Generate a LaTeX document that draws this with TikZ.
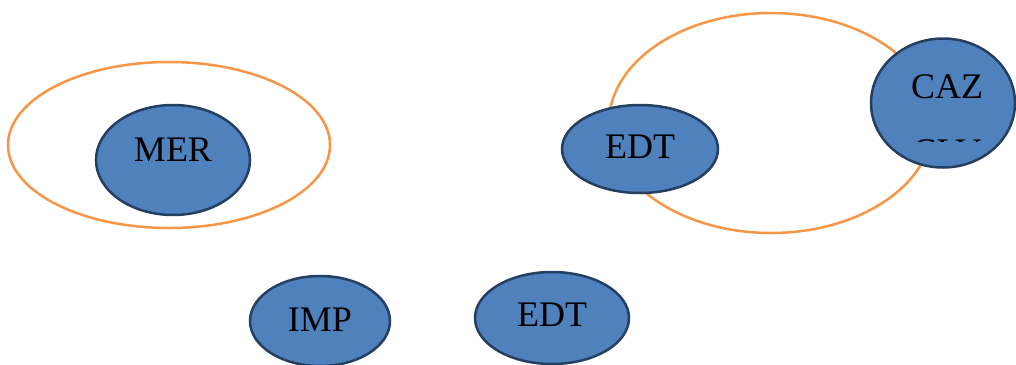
\documentclass[tikz,border=0pt]{standalone}
\usepackage{fontspec}
\setmainfont{Liberation Serif}
\usetikzlibrary{shapes.geometric}
\definecolor{bluefill}{HTML}{4F81BD}
\definecolor{blueline}{HTML}{243F60}
\definecolor{orangeline}{HTML}{F79646}
\begin{document}
\begin{tikzpicture}[x=1pt,y=-1pt,
  group/.style={draw=orangeline,line width=2.5pt},
  blob/.style={ellipse,draw=blueline,fill=bluefill,line width=2.5pt,inner sep=0pt},
  lbl/.style={font=\fontsize{36}{36}\selectfont,text=black,inner sep=0pt}]
\useasboundingbox (0,0) rectangle (1016,364);
% group ellipses
\draw[group] (169,145) ellipse [x radius=161, y radius=83];
\draw[group] (771,123) ellipse [x radius=162, y radius=110];
% nodes
\node[blob,minimum width=154pt,minimum height=110pt] (mer) at (173,160) {};
\node[lbl] (merl) at (173,150) {MER};
\node[blob,minimum width=156pt,minimum height=88pt] (edt1) at (640,149) {};
\node[lbl] (edt1l) at (640,147) {EDT};
\node[blob,minimum width=144pt,minimum height=129pt] (caz) at (943,103) {};
\begin{scope}
\clip (871,38) rectangle (1016,141);
\node[lbl] (cazl) at (947,87) {CAZ};
\node[lbl] (clvl) at (947,152) {CLV};
\end{scope}
\node[blob,minimum width=140pt,minimum height=90pt] (imp) at (320,321) {};
\node[lbl] (impl) at (320,320) {IMP};
\node[blob,minimum width=154pt,minimum height=92pt] (edt2) at (552,318) {};
\node[lbl] (edt2l) at (552,315) {EDT};
\end{tikzpicture}
\end{document}
